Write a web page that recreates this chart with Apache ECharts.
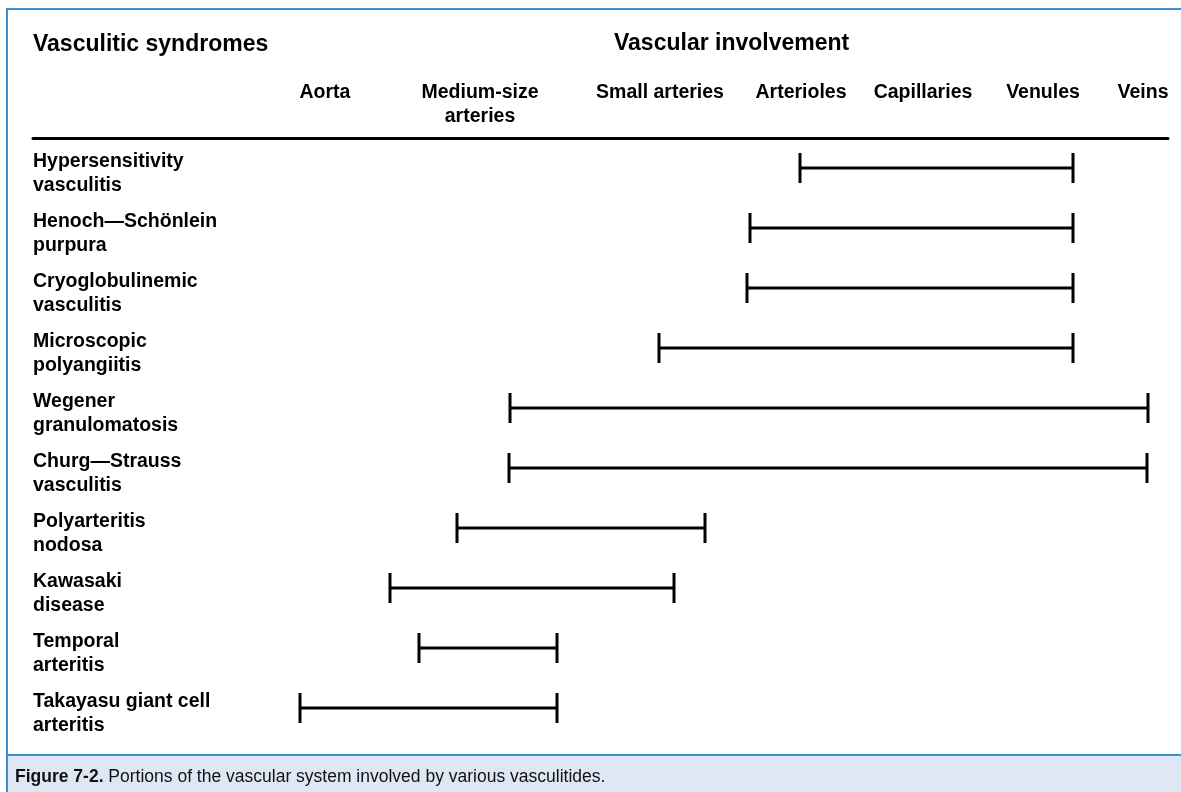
<!DOCTYPE html>
<html>
<head>
<meta charset="utf-8">
<script src="https://cdn.jsdelivr.net/npm/echarts@6/dist/echarts.min.js"></script>
<style>
  html, body { margin: 0; padding: 0; background: #fff; }
  #chart { width: 1181px; height: 792px; }
</style>
</head>
<body>
<div id="chart"></div>
<script>
// ---- data (positions along the vascular spectrum, axis units) ----
const syndromes = [
  'Hypersensitivity\nvasculitis',
  'Henoch\u2014Schönlein\npurpura',
  'Cryoglobulinemic\nvasculitis',
  'Microscopic\npolyangiitis',
  'Wegener\ngranulomatosis',
  'Churg\u2014Strauss\nvasculitis',
  'Polyarteritis\nnodosa',
  'Kawasaki\ndisease',
  'Temporal\narteritis',
  'Takayasu giant cell\narteritis'
]
const startPos = [767, 717, 714, 626, 477, 476, 424, 357, 386, 267]
const endPos = [1040, 1040, 1040, 1040, 1115, 1114, 672, 641, 524, 524]

const vesselNames = ['Aorta', 'Medium-size\narteries', 'Small arteries', 'Arterioles', 'Capillaries', 'Venules', 'Veins']
const vesselPos = [292, 447, 627, 768, 890, 1010, 1110]

const FONT = '"Liberation Sans", Arial, Helvetica, sans-serif'
const BLUE = '#3b8fd2'

const labelFont = { fontFamily: FONT, fontSize: 19.5, fontWeight: 'bold', lineHeight: 24, color: '#000' }

const chart = echarts.init(document.getElementById('chart'), null, { renderer: 'canvas' })

// range bar with end caps
function renderRange(params, api) {
  const row = api.value(2)
  const a = api.coord([api.value(0), row])
  const b = api.coord([api.value(1), row])
  const h = 15
  const stroke = { stroke: '#000', lineWidth: 3 }
  return {
    type: 'group',
    children: [
      { type: 'line', shape: { x1: a[0], y1: a[1], x2: b[0], y2: b[1] }, style: stroke },
      { type: 'line', shape: { x1: a[0], y1: a[1] - h, x2: a[0], y2: a[1] + h }, style: stroke },
      { type: 'line', shape: { x1: b[0], y1: b[1] - h, x2: b[0], y2: b[1] + h }, style: stroke }
    ]
  }
}

chart.setOption({
  backgroundColor: '#fff',
  animation: false,
  title: [
    {
      text: 'Vasculitic syndromes',
      left: 33, top: 33, padding: 0,
      textStyle: { fontFamily: FONT, fontSize: 23, fontWeight: 'bold', color: '#000' }
    },
    {
      text: 'Vascular involvement',
      left: 614, top: 32, padding: 0,
      textStyle: { fontFamily: FONT, fontSize: 23, fontWeight: 'bold', color: '#000' }
    }
  ],
  // grid 0 holds the ranges; grid 1 (a few px lower) only carries the row names
  grid: [
    { left: 33, right: 13, top: 138, height: 600 },
    { left: 33, right: 13, top: 144, height: 600 }
  ],
  xAxis: [
    {
      type: 'value',
      position: 'top',
      min: 0,
      max: 1135,
      splitLine: { show: false },
      axisTick: { show: false },
      axisLine: { show: true, lineStyle: { color: '#000', width: 3 } },
      axisLabel: {
        ...labelFont,
        customValues: vesselPos,
        formatter: (v) => vesselNames[vesselPos.indexOf(v)],
        verticalAlign: 'top',
        margin: 57
      }
    },
    { type: 'value', gridIndex: 1, min: 0, max: 1135, show: false }
  ],
  yAxis: [
    {
      type: 'category',
      data: syndromes,
      inverse: true,
      axisLine: { show: false },
      axisTick: { show: false },
      splitLine: { show: false },
      axisLabel: { show: false }
    },
    {
      type: 'category',
      gridIndex: 1,
      data: syndromes,
      inverse: true,
      axisLine: { show: false },
      axisTick: { show: false },
      splitLine: { show: false },
      axisLabel: {
        ...labelFont,
        inside: true,
        align: 'left',
        margin: 0,
        interval: 0,
        showMinLabel: true,
        showMaxLabel: true
      }
    }
  ],
  series: [
    {
      type: 'custom',
      renderItem: renderRange,
      encode: { x: [0, 1], y: 2 },
      data: syndromes.map((s, i) => [startPos[i], endPos[i], i])
    }
  ],
  graphic: [
    // caption band
    { type: 'rect', left: 7, top: 756, shape: { width: 1174, height: 36 }, style: { fill: '#dfe7f4' }, z: -1 },
    { type: 'line', shape: { x1: 7, y1: 755, x2: 1181, y2: 755 }, style: { stroke: BLUE, lineWidth: 2 } },
    // frame
    { type: 'line', shape: { x1: 7, y1: 8, x2: 7, y2: 792 }, style: { stroke: BLUE, lineWidth: 2 } },
    { type: 'line', shape: { x1: 6, y1: 9, x2: 1181, y2: 9 }, style: { stroke: BLUE, lineWidth: 2 } },
    {
      type: 'text',
      left: 15,
      top: 768,
      style: {
        text: '{b|Figure 7-2.} Portions of the vascular system involved by various vasculitides.',
        fontFamily: FONT,
        fontSize: 17.5,
        fill: '#111',
        rich: { b: { fontFamily: FONT, fontSize: 17.5, fontWeight: 'bold', fill: '#111' } }
      }
    }
  ]
})
</script>
</body>
</html>
